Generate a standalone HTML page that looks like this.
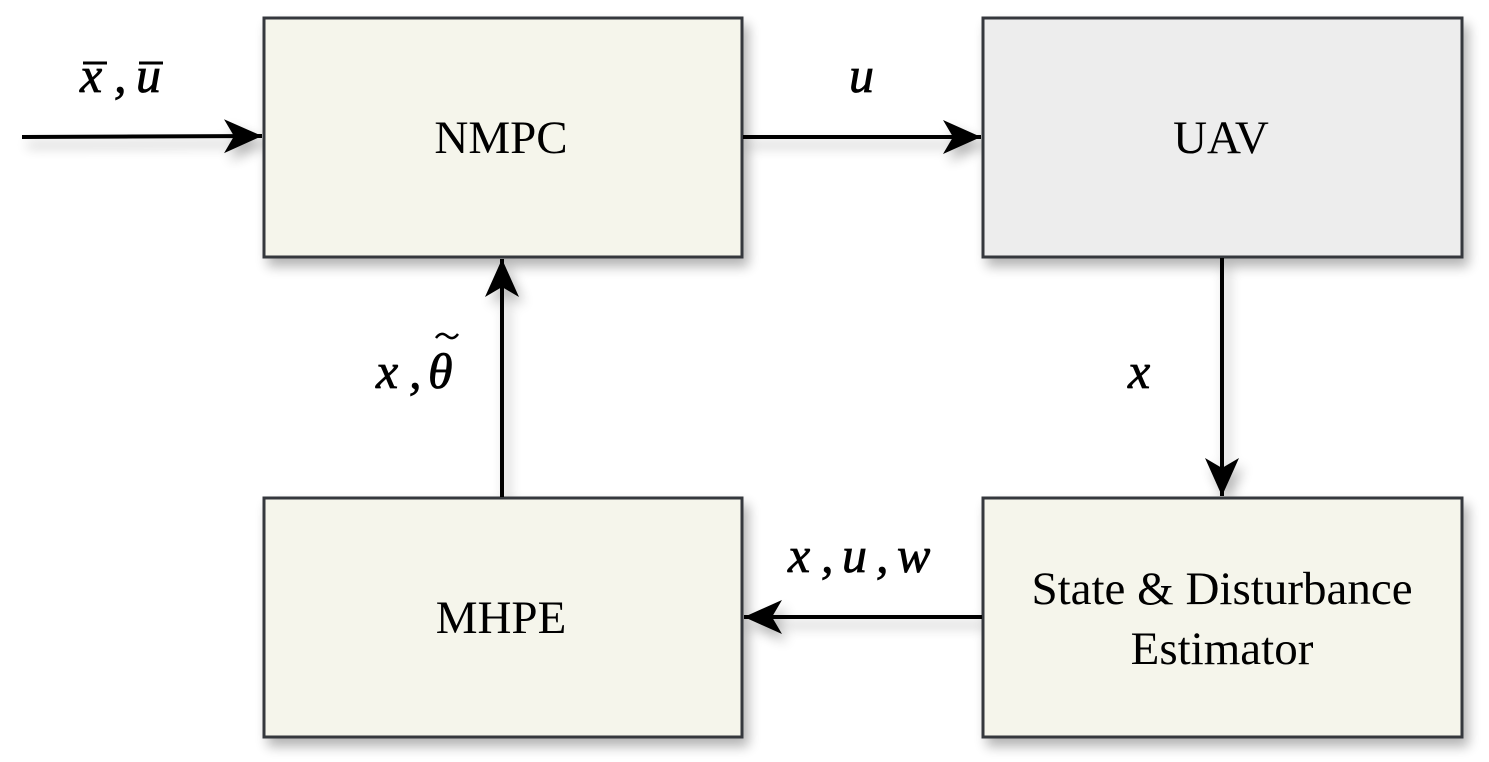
<!DOCTYPE html>
<html><head><meta charset="utf-8"><style>
html,body{margin:0;padding:0;background:#fff;}
svg{display:block;}
.lbl{font-family:"Liberation Serif",serif;font-size:47px;fill:#000;}
.math{font-family:"Liberation Serif",serif;font-style:italic;font-size:50px;fill:#000;stroke:#000;stroke-width:0.8;}
</style></head><body>
<svg width="1489" height="762" viewBox="0 0 1489 762">
<defs>
<filter id="sh" x="-10%" y="-10%" width="130%" height="140%">
<feGaussianBlur in="SourceAlpha" stdDeviation="6"/>
<feOffset dx="5" dy="8"/>
<feComponentTransfer><feFuncA type="linear" slope="0.3"/></feComponentTransfer>
<feMerge><feMergeNode/><feMergeNode in="SourceGraphic"/></feMerge>
</filter>
<marker id="ah" markerWidth="44" markerHeight="44" refX="38" refY="17" orient="auto" markerUnits="userSpaceOnUse">
<path d="M0,0 L38,17 L0,34 L10,17 Z" fill="#000"/>
</marker>
</defs>
<g filter="url(#sh)">
<rect x="264" y="18" width="478" height="239" fill="#f5f5eb" stroke="#36393d" stroke-width="3"/>
<rect x="983" y="18" width="479" height="239" fill="#ededed" stroke="#36393d" stroke-width="3"/>
<rect x="264" y="498" width="478" height="239" fill="#f5f5eb" stroke="#36393d" stroke-width="3"/>
<rect x="983" y="498" width="479" height="239" fill="#f5f5eb" stroke="#36393d" stroke-width="3"/>
<line x1="22" y1="137" x2="262" y2="136" stroke="#000" stroke-width="4" marker-end="url(#ah)"/>
<line x1="743" y1="137" x2="981" y2="137" stroke="#000" stroke-width="4" marker-end="url(#ah)"/>
<line x1="1222" y1="258" x2="1222" y2="496" stroke="#000" stroke-width="4" marker-end="url(#ah)"/>
<line x1="982" y1="617" x2="744" y2="617" stroke="#000" stroke-width="4" marker-end="url(#ah)"/>
<line x1="502" y1="497" x2="502" y2="259" stroke="#000" stroke-width="4" marker-end="url(#ah)"/>
</g>
<text class="lbl" x="501" y="153" text-anchor="middle">NMPC</text>
<text class="lbl" x="1221" y="153" text-anchor="middle">UAV</text>
<text class="lbl" x="501" y="633" text-anchor="middle">MHPE</text>
<text class="lbl" x="1222" y="604" text-anchor="middle">State &amp; Disturbance</text>
<text class="lbl" x="1222" y="664" text-anchor="middle">Estimator</text>

<g>
<text class="math" x="80" y="92">x</text><text class="math" x="114" y="92">,</text><text class="math" x="136" y="92">u</text>
<line x1="83" y1="63" x2="107" y2="63" stroke="#000" stroke-width="3"/>
<line x1="139" y1="63" x2="163" y2="63" stroke="#000" stroke-width="3"/>
</g>
<text class="math" x="849" y="92">u</text>
<text class="math" x="1128" y="388">x</text>
<g>
<text class="math" x="376" y="388">x</text><text class="math" x="409" y="388">,</text><text class="math" x="428" y="388">θ</text>
<path d="M436,338 Q441,331 447,336 Q453,341 458,334" fill="none" stroke="#000" stroke-width="2.5"/>
</g>
<g>
<text class="math" x="788" y="572">x</text><text class="math" x="821" y="572">,</text>
<text class="math" x="842" y="572">u</text><text class="math" x="876" y="572">,</text>
<text class="math" x="897" y="572">w</text>
</g>
</svg>
</body></html>
